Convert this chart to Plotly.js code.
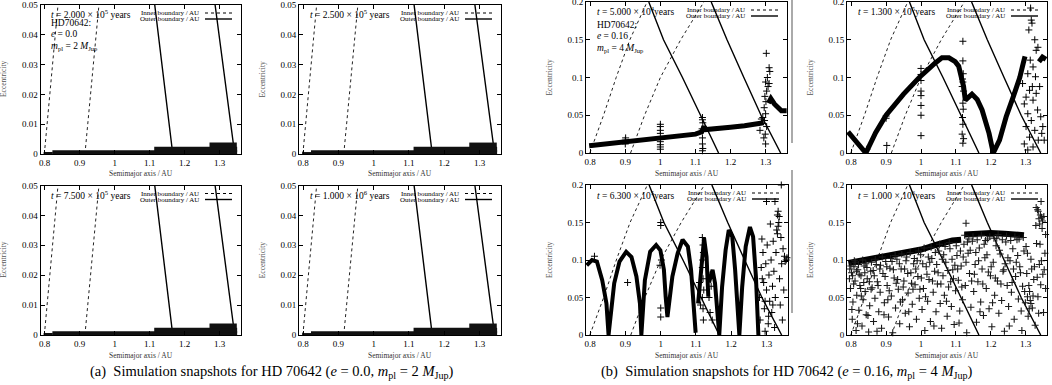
<!DOCTYPE html>
<html>
<head>
<meta charset="utf-8">
<script src="https://cdn.plot.ly/plotly-3.0.1.min.js"></script>
<style>
  html, body { margin: 0; padding: 0; background: #fff; }
  #plot { width: 1052px; height: 385px; }
</style>
</head>
<body>
<div id="plot"></div>
<script>
  // --- boundaries (same curves in every panel): semimajor axis vs eccentricity ---
  const boundE  = [0, 0.05, 0.1, 0.15, 0.2];
  const inner1A = [0.799, 0.838, 0.874, 0.913, 0.962];
  const inner2A = [0.915, 0.955, 1.0, 1.058, 1.124];
  const outer1A = [1.166, 1.115, 1.063, 1.009, 0.967];
  const outer2A = [1.343, 1.287, 1.238, 1.19, 1.145];

  // --- (a) e = 0.0 runs: the + clouds lie in flat strips just above e = 0 ---
  const stripStart = [0.797, 0.822, 1.113, 1.271];
  const stripEnd   = [0.823, 1.35, 1.35, 1.349];
  const stripE     = [0.00015, 0.00045, 0.0016, 0.003];

  // --- (b) t = 5.000e4 ---
  const b1CurveA = [0.797, 0.85, 0.9, 0.95, 1.0, 1.05, 1.1, 1.118, 1.124, 1.13, 1.17, 1.2, 1.24, 1.28, 1.295, null, 1.308, 1.315, 1.325, 1.335, 1.345, 1.36];
  const b1CurveE = [0.0095, 0.012, 0.0145, 0.017, 0.0195, 0.022, 0.025, 0.028, 0.035, 0.031, 0.032, 0.034, 0.036, 0.038, 0.04, null, 0.066, 0.072, 0.065, 0.06, 0.056, 0.056];
  const b1PtsA = [0.9, 0.9, 0.901, 1.0, 1.0, 1.0, 1.0, 1.0, 1.0, 1.0, 1.0, 1.12, 1.12, 1.121, 1.119, 1.12, 1.12, 1.121, 1.12,
                  1.302, 1.31, 1.312, 1.305, 1.3, 1.31, 1.307, 1.303, 1.298, 1.301, 1.296, 1.3, 1.292, 1.297, 1.303, 1.299, 1.295, 1.3, 1.288, 1.284];
  const b1PtsE = [0.012, 0.017, 0.02, 0.038, 0.035, 0.03, 0.026, 0.015, 0.011, 0.008, 0.005, 0.047, 0.044, 0.04, 0.032, 0.02, 0.012, 0.006, 0.003,
                  0.132, 0.113, 0.108, 0.1, 0.094, 0.092, 0.088, 0.082, 0.075, 0.068, 0.06, 0.052, 0.047, 0.043, 0.035, 0.025, 0.02, 0.012, 0.045, 0.03];

  // --- (b) t = 1.300e5 ---
  const b2CurveA = [0.791, 0.815, 0.842, 0.87, 0.9, 0.95, 0.995, 1.04, 1.06, 1.08, 1.098, 1.108, 1.117, 1.122, 1.127, 1.137, 1.146, 1.161, 1.175, 1.195, 1.207, 1.225, 1.244, 1.264, 1.283, 1.293, 1.298, null, 1.338, 1.348, 1.358];
  const b2CurveE = [0.028, 0.014, 0.0, 0.027, 0.05, 0.078, 0.1, 0.119, 0.126, 0.126, 0.121, 0.115, 0.101, 0.088, 0.07, 0.074, 0.078, 0.071, 0.057, 0.026, 0.0, 0.017, 0.048, 0.074, 0.1, 0.119, 0.128, null, 0.121, 0.127, 0.124];
  const b2PtsA = [0.9, 0.9, 0.902, 0.845, 1.0, 1.0, 1.0, 1.0, 1.0, 1.0, 1.0, 1.0,
                  1.12, 1.12, 1.121, 1.119, 1.12, 1.118, 1.122, 1.12, 1.121, 1.119, 1.12, 1.118, 1.122, 1.12,
                  1.314, 1.316, 1.318, 1.309, 1.326, 1.33, 1.335, 1.313, 1.321, 1.306, 1.328, 1.34, 1.311, 1.301, 1.321, 1.334, 1.306, 1.316,
                  1.343, 1.301, 1.326, 1.311, 1.336, 1.296, 1.321, 1.306, 1.346, 1.291, 1.296, 1.319, 1.33, 1.349, 1.353];
  const b2PtsE = [0.049, 0.046, 0.01, 0.005, 0.112, 0.104, 0.096, 0.082, 0.076, 0.063, 0.05, 0.023,
                  0.148, 0.122, 0.105, 0.098, 0.094, 0.088, 0.082, 0.066, 0.058, 0.047, 0.038, 0.025, 0.019, 0.013,
                  0.192, 0.176, 0.172, 0.163, 0.15, 0.136, 0.14, 0.123, 0.114, 0.105, 0.101, 0.088, 0.083, 0.074, 0.07, 0.057, 0.052, 0.043,
                  0.048, 0.035, 0.03, 0.021, 0.017, 0.012, 0.008, 0.004, 0.026, 0.092, 0.065, 0.088, 0.079, 0.035, 0.017];

  // --- (b) t = 6.300e5 ---
  const b3CurveA = [0.79, 0.805, 0.819, 0.834, 0.846, 0.852, 0.868, 0.883, 0.902, 0.917, 0.931, 0.941, 0.945,
                    0.955, 0.97, 0.987, 0.999, 1.009, 1.014, 1.019, 1.033, 1.048, 1.062, 1.077, 1.086, 1.094, 1.099, null,
                    1.106, 1.116, 1.123, 1.13, 1.135, null, 1.137, 1.142, 1.147, 1.154, 1.161, 1.166,
                    1.174, 1.184, 1.193, 1.203, 1.211, 1.218, 1.223, 1.231, 1.241, 1.253, 1.262, 1.27, 1.274, 1.277];
  const b3CurveE = [0.093, 0.1, 0.098, 0.073, 0.042, 0.0, 0.069, 0.098, 0.111, 0.104, 0.078, 0.042, 0.0,
                    0.073, 0.111, 0.12, 0.113, 0.087, 0.051, 0.024, 0.078, 0.109, 0.127, 0.118, 0.087, 0.042, 0.003, null,
                    0.042, 0.087, 0.129, 0.104, 0.051, null, 0.07, 0.078, 0.087, 0.069, 0.029, 0.0,
                    0.064, 0.113, 0.14, 0.131, 0.087, 0.033, 0.0, 0.064, 0.118, 0.144, 0.131, 0.078, 0.033, 0.0];
  const b3PtsA = [1.28, 1.282, 1.285, 1.287, 1.29, 1.292, 1.294, 1.296, 1.298, 1.3, 1.302, 1.305, 1.307, 1.309, 1.311, 1.313, 1.315,
                  1.317, 1.319, 1.321, 1.323, 1.325, 1.327, 1.329, 1.331, 1.333, 1.335, 1.337, 1.339, 1.341, 1.343, 1.345, 1.347,
                  1.349, 1.351, 1.353, 1.356, 1.358, 1.333, 1.331, 1.336, 1.318, 1.306, 1.288, 1.296, 1.342, 1.3, 1.324,
                  1.0, 1.0, 1.002, 0.998, 1.0, 1.0, 0.906, 0.812,
                  1.118, 1.12, 1.121, 1.119, 1.118, 1.12, 1.122, 1.118, 1.12, 1.121, 1.113, 1.11, 1.14, 1.143, 1.137, 1.14, 1.146];
  const b3PtsE = [0.05, 0.02, 0.09, 0.128, 0.11, 0.07, 0.035, 0.005, 0.095, 0.06, 0.12, 0.015, 0.08, 0.045, 0.148, 0.1, 0.03,
                  0.065, 0.125, 0.085, 0.01, 0.05, 0.11, 0.14, 0.16, 0.165, 0.15, 0.075, 0.04, 0.13, 0.095, 0.02, 0.115,
                  0.06, 0.105, 0.098, 0.1, 0.103, 0.145, 0.135, 0.158, 0.04, 0.025, 0.075, 0.045, 0.2, 0.178, 0.178,
                  0.15, 0.146, 0.1, 0.093, 0.024, 0.036, 0.07, 0.105,
                  0.13, 0.12, 0.11, 0.1, 0.09, 0.075, 0.06, 0.05, 0.035, 0.02, 0.04, 0.07, 0.08, 0.065, 0.05, 0.03, 0.02];

  // --- (b) t = 1.000e6 ---
  const b4TopA = [0.792, 0.83, 0.87, 0.91, 0.95, 1.0, 1.05, 1.09, 1.115, null, 1.125, 1.16, 1.2, 1.24, 1.28, 1.295];
  const b4TopE = [0.096, 0.099, 0.102, 0.106, 0.109, 0.114, 0.121, 0.126, 0.127, null, 0.134, 0.135, 0.136, 0.135, 0.134, 0.133];
  const b4PtsA = [0.798, 0.801, 0.803, 0.805, 0.808, 0.811, 0.814, 0.816, 0.819, 0.822, 0.825, 0.828, 0.831, 0.834, 0.837, 0.84,
    0.843, 0.846, 0.85, 0.853, 0.856, 0.86, 0.864, 0.868, 0.872, 0.875, 0.879, 0.883, 0.887, 0.891, 0.895, 0.899, 0.903, 0.907,
    0.911, 0.915, 0.919, 0.923, 0.927, 0.931, 0.935, 0.939, 0.943, 0.947, 0.951, 0.955, 0.959, 0.963, 0.967, 0.971, 0.975, 0.979,
    0.983, 0.987, 0.991, 0.995, 0.999, 1.003, 1.007, 1.011, 1.015, 1.019, 1.023, 1.027, 1.031, 1.035, 1.039, 1.043, 1.047, 1.051,
    1.055, 1.059, 1.063, 1.067, 1.071, 1.075, 1.079, 1.083, 1.087, 1.091, 1.095, 1.099, 1.103, 1.107, 1.111, 1.115, 1.119, 1.123,
    1.127, 1.131, 1.135, 1.139, 1.143, 1.147, 1.151, 1.155, 1.159, 1.163, 1.167, 1.171, 1.175, 1.179, 1.183, 1.187, 1.191, 1.195,
    1.199, 1.203, 1.207, 1.211, 1.215, 1.219, 1.223, 1.227, 1.231, 1.235, 1.239, 1.243, 1.247, 1.251, 1.255, 1.259, 1.263, 1.267,
    1.271, 1.275, 1.279, 1.283, 1.287, 1.291, 1.295, 1.299, 1.303, 1.307, 1.311, 1.315, 1.319, 1.323, 1.327, 1.331, 1.335, 1.339,
    1.343, 1.347, 1.351, 1.355,
    0.795, 0.799, 0.802, 0.807, 0.812, 0.818, 0.823, 0.829, 0.836, 0.842, 0.848, 0.857, 0.866, 0.874, 0.882, 0.894, 0.905, 0.917,
    0.929, 0.941, 0.953, 0.965, 0.977, 0.989, 1.001, 1.013, 1.025, 1.037, 1.049, 1.061, 1.073, 1.085, 1.097, 1.109, 1.121, 1.133,
    1.145, 1.157, 1.169, 1.181, 1.193, 1.205, 1.217, 1.229, 1.241, 1.253, 1.265, 1.277, 1.289, 1.301, 1.313, 1.325, 1.337, 1.349,
    1.357, 1.31, 1.315, 1.305, 1.129,
    1.338, 1.342, 1.345, 1.348, 1.34, 1.336, 1.33, 1.344, 1.334, 1.352,
    0.796, 0.804, 0.809, 0.815, 0.821, 0.827, 0.833, 0.839, 0.845, 0.852, 0.858, 0.863, 0.869, 0.877, 0.884, 0.889, 0.897, 0.902,
    0.909, 0.913, 0.921, 0.926, 0.933, 0.938, 0.945, 0.949, 0.957, 0.962, 0.969, 0.973, 0.981, 0.985, 0.993, 0.997, 1.005, 1.009,
    1.017, 1.021, 1.029, 1.033, 1.041, 1.045, 1.053, 1.057, 1.065, 1.069, 1.077, 1.081, 1.089, 1.093, 1.101, 1.105, 1.113, 1.117,
    1.125, 1.129, 1.137, 1.141, 1.149, 1.153, 1.161, 1.165, 1.173, 1.177, 1.185, 1.189, 1.197, 1.201, 1.209, 1.213, 1.221, 1.225,
    1.233, 1.237, 1.245, 1.249, 1.257, 1.261, 1.269, 1.273, 1.281, 1.285, 1.293, 1.297, 1.305, 1.309, 1.317, 1.321, 1.329, 1.333,
    1.341, 1.345, 1.353, 1.357];
  const b4PtsE = [0.062, 0.083, 0.021, 0.044, 0.091, 0.072, 0.006, 0.053, 0.087, 0.033, 0.066, 0.079, 0.012, 0.047, 0.092, 0.058,
    0.027, 0.075, 0.004, 0.039, 0.085, 0.063, 0.018, 0.049, 0.094, 0.071, 0.031, 0.057, 0.009, 0.082, 0.043, 0.098, 0.066, 0.024,
    0.089, 0.052, 0.003, 0.076, 0.036, 0.101, 0.061, 0.015, 0.088, 0.047, 0.072, 0.029, 0.104, 0.056, 0.011, 0.083, 0.041, 0.095,
    0.067, 0.021, 0.078, 0.049, 0.107, 0.034, 0.062, 0.006, 0.091, 0.045, 0.074, 0.018, 0.102, 0.057, 0.085, 0.031, 0.068, 0.112,
    0.042, 0.009, 0.079, 0.053, 0.097, 0.025, 0.064, 0.115, 0.038, 0.087, 0.014, 0.059, 0.106, 0.073, 0.032, 0.092, 0.047, 0.121,
    0.066, 0.003, 0.109, 0.082, 0.037, 0.125, 0.058, 0.094, 0.017, 0.071, 0.116, 0.044, 0.088, 0.026, 0.103, 0.062, 0.128, 0.035,
    0.079, 0.011, 0.097, 0.053, 0.119, 0.072, 0.029, 0.108, 0.046, 0.085, 0.005, 0.124, 0.066, 0.038, 0.099, 0.057, 0.115, 0.021,
    0.078, 0.127, 0.048, 0.091, 0.032, 0.065, 0.112, 0.043, 0.082, 0.025, 0.058, 0.101, 0.036, 0.074, 0.013, 0.122, 0.051, 0.094,
    0.067, 0.142, 0.03, 0.109,
    0.075, 0.092, 0.034, 0.068, 0.097, 0.015, 0.081, 0.052, 0.07, 0.095, 0.026, 0.061, 0.079, 0.005, 0.088, 0.027, 0.047, 0.098,
    0.069, 0.044, 0.088, 0.031, 0.061, 0.099, 0.076, 0.051, 0.097, 0.012, 0.083, 0.101, 0.045, 0.071, 0.093, 0.016, 0.104, 0.124,
    0.072, 0.11, 0.031, 0.121, 0.084, 0.043, 0.129, 0.068, 0.095, 0.012, 0.088, 0.106, 0.006, 0.118, 0.046, 0.091, 0.029, 0.081,
    0.062, 0.035, 0.042, 0.051, 0.149,
    0.155, 0.16, 0.157, 0.152, 0.148, 0.165, 0.17, 0.178, 0.167, 0.158,
    0.088, 0.079, 0.099, 0.085, 0.094, 0.062, 0.1, 0.083, 0.09, 0.071, 0.097, 0.086, 0.101, 0.066, 0.093, 0.104, 0.078, 0.091,
    0.059, 0.102, 0.087, 0.106, 0.074, 0.095, 0.108, 0.064, 0.099, 0.082, 0.11, 0.069, 0.102, 0.088, 0.112, 0.061, 0.095, 0.116,
    0.081, 0.104, 0.117, 0.072, 0.11, 0.094, 0.121, 0.068, 0.107, 0.118, 0.086, 0.123, 0.101, 0.075, 0.119, 0.088, 0.112, 0.064,
    0.133, 0.097, 0.128, 0.113, 0.131, 0.081, 0.127, 0.099, 0.133, 0.068, 0.126, 0.107, 0.131, 0.091, 0.129, 0.076, 0.134, 0.113,
    0.127, 0.087, 0.132, 0.103, 0.126, 0.07, 0.131, 0.097, 0.128, 0.083, 0.13, 0.058, 0.109, 0.066, 0.088, 0.052, 0.146, 0.077,
    0.121, 0.099, 0.087, 0.134];

  // --- text ---
  const timeLabels = ['2.000 × 10<sup>5</sup> years', '2.500 × 10<sup>5</sup> years', '5.000 × 10<sup>4</sup>years', '1.300 × 10<sup>5</sup>years',
                      '7.500 × 10<sup>5</sup> years', '1.000 × 10<sup>6</sup> years', '6.300 × 10<sup>5</sup>years', '1.000 × 10<sup>6</sup>years'];
  const xTickVals = [0.8, 0.9, 1.0, 1.1, 1.2, 1.3];
  const xTickText = ['0.8', '0.9', '1', '1.1', '1.2', '1.3'];
  const yTickValsA = [0, 0.01, 0.02, 0.03, 0.04, 0.05];
  const yTickTextA = ['0', '0.01', '0.02', '0.03', '0.04', '0.05'];
  const yTickValsB = [0, 0.05, 0.1, 0.15, 0.2];
  const yTickTextB = ['0', '0.05', '0.1', '0.15', '0.2'];

  // --- layout geometry (pixels of the 1052x385 page) ---
  const W = 1052, H = 385;
  const PX = v => v / W, PY = v => 1 - v / H;
  const FONT = 'Liberation Serif, Times New Roman, serif';

  const panels = [
    {l: 40.5, r: 241, t: 5,   b: 154, big: false},
    {l: 299,  r: 501, t: 5,   b: 154, big: false},
    {l: 586,  r: 787, t: 2,   b: 153, big: true},
    {l: 847,  r: 1047, t: 2,  b: 153, big: true},
    {l: 40.5, r: 241, t: 185.5, b: 335, big: false},
    {l: 299,  r: 501, t: 185.5, b: 335, big: false},
    {l: 586,  r: 788, t: 185, b: 335, big: true},
    {l: 847,  r: 1047, t: 185, b: 335, big: true},
  ];

  const plus = {symbol: 'cross-thin', size: 5, color: '#000', line: {width: 1, color: '#000'}};
  const traces = [];
  const annotations = [];
  const shapes = [];
  const layout = {
    width: W, height: H,
    margin: {l: 0, r: 0, t: 0, b: 0},
    paper_bgcolor: '#fff', plot_bgcolor: '#fff',
    showlegend: false,
    font: {family: FONT, size: 9, color: '#000'},
  };

  panels.forEach((p, i) => {
    const n = i + 1;
    const xa = 'x' + (n > 1 ? n : ''), ya = 'y' + (n > 1 ? n : '');
    const axisStyle = {
      ticks: 'inside', ticklen: 4, tickcolor: '#000', mirror: 'allticks', ticklabeloverflow: 'allow',
      showline: true, linecolor: '#000', linewidth: 1, showgrid: false, zeroline: false,
      tickfont: {family: FONT, size: 9},
    };
    layout['xaxis' + (n > 1 ? n : '')] = Object.assign({
      domain: [PX(p.l), PX(p.r)], anchor: ya, range: [0.788, 1.361],
      tickvals: xTickVals, ticktext: xTickText,
    }, axisStyle);
    layout['yaxis' + (n > 1 ? n : '')] = Object.assign({
      domain: [PY(p.b), PY(p.t)], anchor: xa, range: [0, p.big ? 0.2 : 0.05],
      tickvals: p.big ? yTickValsB : yTickValsA, ticktext: p.big ? yTickTextB : yTickTextA,
    }, axisStyle);

    // boundaries
    [inner1A, inner2A].forEach(a => traces.push({x: a, y: boundE, xaxis: xa, yaxis: ya, mode: 'lines',
      line: {color: '#222', width: 1, dash: '3px,3px'}, hoverinfo: 'skip'}));
    [outer1A, outer2A].forEach(a => traces.push({x: a, y: boundE, xaxis: xa, yaxis: ya, mode: 'lines',
      line: {color: '#000', width: 1.4}, hoverinfo: 'skip'}));

    // simulation particles
    if (!p.big) {
      stripStart.forEach((s, k) => traces.push({x: [s, stripEnd[k]], y: [stripE[k], stripE[k]], xaxis: xa, yaxis: ya,
        mode: 'lines', line: {color: '#111', width: k === 0 ? 3 : 5}, cliponaxis: false, hoverinfo: 'skip'}));
    } else {
      const sets = {3: [b1CurveA, b1CurveE, b1PtsA, b1PtsE, 5], 4: [b2CurveA, b2CurveE, b2PtsA, b2PtsE, 5],
                    7: [b3CurveA, b3CurveE, b3PtsA, b3PtsE, 4], 8: [b4TopA, b4TopE, b4PtsA, b4PtsE, 6]}[n];
      traces.push({x: sets[0], y: sets[1], xaxis: xa, yaxis: ya, mode: 'lines', connectgaps: false,
        line: {color: '#000', width: sets[4]}, cliponaxis: false, hoverinfo: 'skip'});
      traces.push({x: sets[2], y: sets[3], xaxis: xa, yaxis: ya, mode: 'markers',
        marker: Object.assign({}, plus, n === 8 ? {size: 5, color: '#1a1a1a', line: {width: 1.1, color: '#1a1a1a'}} : {}),
        cliponaxis: false, hoverinfo: 'skip'});
    }

    // key (gnuplot style: text, then sample)
    const keyText = PX(p.r - 40), s0 = PX(p.r - 36), s1 = PX(p.r - 9);
    [['Inner boundary / AU', 8, 'dot'], ['Outer boundary / AU', 14, 'solid']].forEach(([txt, dy, dash]) => {
      annotations.push({xref: 'paper', yref: 'paper', x: keyText, y: PY(p.t + dy), xanchor: 'right', yanchor: 'middle',
        text: txt, showarrow: false, font: {family: FONT, size: 7}});
      shapes.push({type: 'line', xref: 'paper', yref: 'paper', x0: s0, x1: s1, y0: PY(p.t + dy), y1: PY(p.t + dy),
        line: {color: '#000', width: dash === 'dot' ? 1 : 1.4, dash: dash === 'dot' ? '3px,3px' : 'solid'}});
    });

    // time stamp
    annotations.push({xref: 'paper', yref: 'paper', x: PX(p.l + 8.5), y: PY(p.t + 9.5), xanchor: 'left', yanchor: 'middle',
      text: '<i>t</i> = ' + timeLabels[i], showarrow: false, font: {family: FONT, size: 9.5}});

    // axis titles
    annotations.push({xref: 'paper', yref: 'paper', x: PX((p.l + p.r) / 2), y: PY(p.b + 20), xanchor: 'center', yanchor: 'middle',
      text: 'Semimajor axis / AU', showarrow: false, font: {family: FONT, size: 7.5, color: '#333'}});
    annotations.push({xref: 'paper', yref: 'paper', x: PX(p.l - 37), y: PY((p.t + p.b) / 2), xanchor: 'center', yanchor: 'middle',
      text: 'Eccentricity', textangle: -90, showarrow: false, font: {family: FONT, size: 7.5, color: '#555'}});
  });

  // run parameters in the first snapshot of each set
  const paramsA = ['HD70642:', '<i>e</i> = 0.0', '<i>m</i><sub>pl</sub> = 2 <i>M</i><sub>Jup</sub>'];
  const paramsB = ['HD70642:', '<i>e</i> = 0.16', '<i>m</i><sub>pl</sub> = 4 <i>M</i><sub>Jup</sub>'];
  [[panels[0], paramsA, [23.5, 34.5, 46.5]], [panels[2], paramsB, [25, 36, 48]]].forEach(([p, lines, ys]) => {
    lines.forEach((txt, k) => annotations.push({xref: 'paper', yref: 'paper', x: PX(p.l + 8.5), y: PY(ys[k]),
      xanchor: 'left', yanchor: 'middle', text: txt, showarrow: false, font: {family: FONT, size: 9.5}}));
  });

  // captions
  annotations.push({xref: 'paper', yref: 'paper', x: PX(272), y: PY(372), xanchor: 'center', yanchor: 'middle', showarrow: false,
    text: '(a)  Simulation snapshots for HD 70642 (<i>e</i> = 0.0, <i>m</i><sub>pl</sub> = 2 <i>M</i><sub>Jup</sub>)',
    font: {family: FONT, size: 14.5}});
  annotations.push({xref: 'paper', yref: 'paper', x: PX(787), y: PY(372), xanchor: 'center', yanchor: 'middle', showarrow: false,
    text: '(b)  Simulation snapshots for HD 70642 (<i>e</i> = 0.16, <i>m</i><sub>pl</sub> = 4 <i>M</i><sub>Jup</sub>)',
    font: {family: FONT, size: 14.5}});

  // faint edge left over from the figure between the two halves
  shapes.push({type: 'line', xref: 'paper', yref: 'paper', x0: PX(792), x1: PX(792), y0: PY(0), y1: PY(143), line: {color: '#aaa', width: 2}});
  shapes.push({type: 'line', xref: 'paper', yref: 'paper', x0: PX(792), x1: PX(792), y0: PY(170), y1: PY(313), line: {color: '#aaa', width: 2}});

  layout.annotations = annotations;
  layout.shapes = shapes;

  Plotly.newPlot('plot', traces, layout, {staticPlot: true, displayModeBar: false});
</script>
</body>
</html>
